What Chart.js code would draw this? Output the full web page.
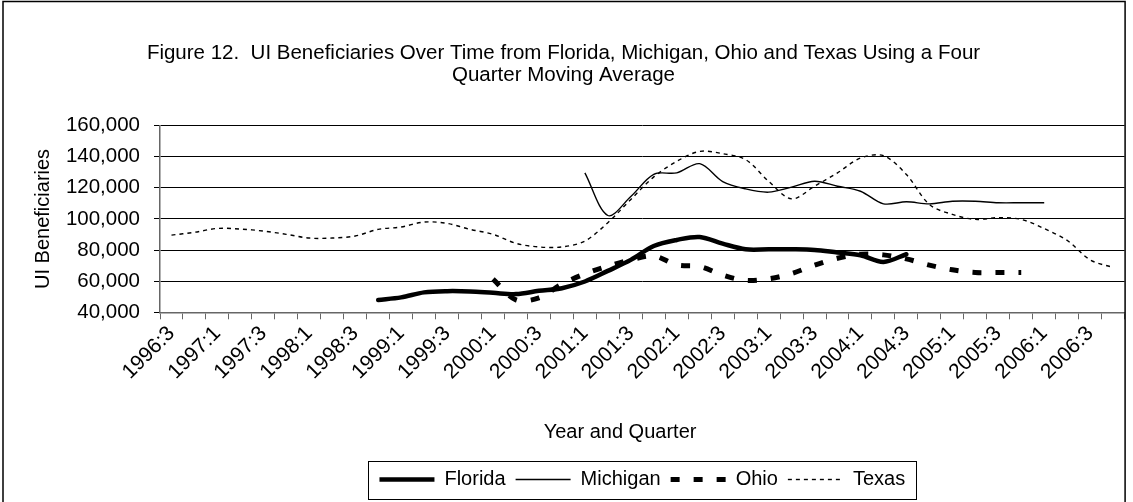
<!DOCTYPE html>
<html>
<head>
<meta charset="utf-8">
<script src="https://cdn.jsdelivr.net/npm/chart.js@4.4.0/dist/chart.umd.min.js"></script>
<style>
  html, body { margin: 0; padding: 0; background: #fff; }
  #wrap { width: 1133px; height: 502px; }
</style>
</head>
<body>
<div id="wrap"><canvas id="c" width="1133" height="502"></canvas></div>
<script>
const categories = [
  '1996:3','1996:4',
  '1997:1','1997:2','1997:3','1997:4',
  '1998:1','1998:2','1998:3','1998:4',
  '1999:1','1999:2','1999:3','1999:4',
  '2000:1','2000:2','2000:3','2000:4',
  '2001:1','2001:2','2001:3','2001:4',
  '2002:1','2002:2','2002:3','2002:4',
  '2003:1','2003:2','2003:3','2003:4',
  '2004:1','2004:2','2004:3','2004:4',
  '2005:1','2005:2','2005:3','2005:4',
  '2006:1','2006:2','2006:3','2006:4'
];

const florida = [null,null,null,null,null,null,null,null,null,
  47900,49600,52800,53600,53400,52500,51700,53800,55500,59800,66600,73700,82600,86500,88400,
  84100,80500,80500,80500,80100,78400,76700,72400,77300,
  null,null,null,null,null,null,null,null,null];

const michigan = [null,null,null,null,null,null,null,null,null,null,null,null,null,null,null,null,null,null,
  129600,102200,114400,128700,129600,135500,124000,119300,117200,120400,124200,121000,117800,
  109700,111000,109700,111400,111400,110400,110400,110400,
  null,null,null];

const ohio = [null,null,null,null,null,null,null,null,null,null,null,null,null,null,
  61300,48000,49300,58100,64700,69600,73700,76200,70500,69400,63900,60500,61500,64900,70300,
  74700,77300,76900,74300,70300,67300,65600,65600,65600,
  null,null,null,null];

const texas = [89600,91400,93900,93500,92200,90100,87700,87700,89000,93300,
  94800,98000,97100,93300,90100,84300,82000,82000,85800,97600,
  112500,127000,137000,143400,141900,138100,124200,112900,121000,129600,
  139100,140600,128500,109300,102900,99700,100800,99700,93800,86200,
  73700,68800];

const titleLines = ['Figure 12.  UI Beneficiaries Over Time from Florida, Michigan, Ohio and Texas Using a Four',
                    'Quarter Moving Average'];
const xTitle = 'Year and Quarter';
const yTitle = 'UI Beneficiaries';
const yMin = 40000, yMax = 160000, yStep = 20000;

const FONT = "'Liberation Sans', Arial, sans-serif";

const framePlugin = {
  id: 'frame',
  beforeDraw(chart) {
    const c = chart.ctx;
    c.save();
    c.fillStyle = '#fff';
    c.fillRect(0, 0, chart.width, chart.height);
    c.restore();
  },
  afterDraw(chart) {
    const c = chart.ctx;
    const ca = chart.chartArea;
    c.save();
    c.strokeStyle = '#000';
    c.lineWidth = 1.5;
    c.beginPath();
    c.moveTo(3, chart.height + 2);
    c.lineTo(3, 1.5);
    c.lineTo(ca.right + 0.5, 1.5);
    c.lineTo(ca.right + 0.5, chart.height + 2);
    c.stroke();
    // legend border
    const hb = chart.legend.legendHitBoxes;
    if (hb && hb.length) {
      const l = Math.min(...hb.map(h => h.left)) - 11;
      const r = Math.max(...hb.map(h => h.left + h.width)) + 11;
      const cy = hb[0].top + hb[0].height / 2;
      c.lineWidth = 1;
      c.strokeStyle = '#000';
      c.strokeRect(Math.round(l) + 0.5, Math.round(cy - 19) + 0.5, Math.round(r - l), 38);
    }
    c.restore();
  }
};

new Chart(document.getElementById('c'), {
  type: 'line',
  data: {
    labels: categories,
    datasets: [
      { label: 'Florida', data: florida, borderColor: '#000', backgroundColor: '#000',
        borderWidth: 4.5, borderCapStyle: 'round', pointRadius: 0, pointStyle: 'line', tension: 0.33 },
      { label: 'Michigan', data: michigan, borderColor: '#000', backgroundColor: '#000',
        borderWidth: 1.4, pointRadius: 0, pointStyle: 'line', tension: 0.33 },
      { label: 'Ohio', data: ohio, borderColor: '#000', backgroundColor: '#000',
        borderWidth: 5, borderDash: [9, 14], pointRadius: 0, pointStyle: 'line', tension: 0.33 },
      { label: 'Texas', data: texas, borderColor: '#000', backgroundColor: '#000',
        borderWidth: 1.4, borderDash: [4, 4], pointRadius: 0, pointStyle: 'line', tension: 0.33 }
    ]
  },
  options: {
    responsive: false,
    animation: false,
    events: [],
    layout: { padding: { left: 0, right: 6, top: 0, bottom: 2.5 } },
    plugins: {
      title: {
        display: true,
        text: titleLines,
        color: '#000',
        font: { family: FONT, size: 20.5, weight: 'normal', lineHeight: 1.05 },
        padding: { top: 43, bottom: 39.5 }
      },
      legend: {
        position: 'bottom',
        fullSize: false,
        labels: {
          color: '#000',
          font: { family: FONT, size: 20 },
          usePointStyle: true,
          pointStyleWidth: 55,
          padding: 10,
          generateLabels: chart => Chart.defaults.plugins.legend.labels.generateLabels(chart).map((it, i) => {
            const ds = chart.data.datasets[it.datasetIndex ?? i];
            it.lineDash = ds.borderDash || [];
            it.lineWidth = ds.borderWidth;
            it.lineCap = 'butt';
            return it;
          })
        }
      },
      tooltip: { enabled: false }
    },
    scales: {
      x: {
        offset: true,
        grid: { offset: true, drawOnChartArea: false, drawTicks: true, tickLength: 7, color: '#666', lineWidth: 1 },
        border: { display: true, color: '#666', width: 1.5 },
        ticks: {
          autoSkip: false, maxRotation: 45, minRotation: 45, padding: 2,
          color: '#000', font: { family: FONT, size: 21 },
          callback: function(v, i) { return i % 2 === 0 ? categories[i] : ''; }
        },
        title: {
          display: true, text: xTitle + '        ', color: '#000',
          font: { family: FONT, size: 20 }, padding: { top: 0, bottom: 15 }
        },
        afterFit: s => { s.height = 147.2; }
      },
      y: {
        min: yMin, max: yMax,
        grid: { color: '#000', lineWidth: 1, tickLength: 6 },
        border: { display: true, color: '#666', width: 1.5 },
        ticks: {
          stepSize: yStep, padding: 14, color: '#000',
          font: { family: FONT, size: 20.5 },
          callback: v => v.toLocaleString('en-US')
        },
        title: {
          display: true, text: yTitle, color: '#000',
          font: { family: FONT, size: 20 }, padding: { top: 31, bottom: 0 }
        },
        afterFit: s => { s.width = 160; }
      }
    }
  },
  plugins: [framePlugin]
});
</script>
</body>
</html>
